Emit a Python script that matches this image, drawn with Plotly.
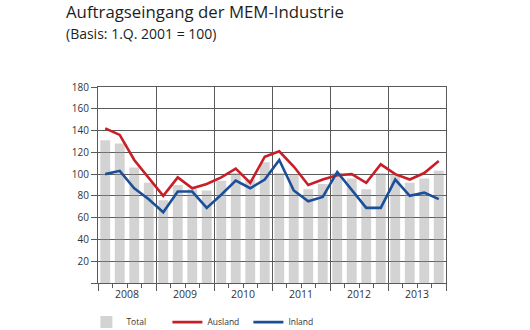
import plotly.graph_objects as go

# Quarterly order intake index of the MEM industry, 2008 Q1 - 2013 Q4
years = ["2008", "2009", "2010", "2011", "2012", "2013"]
quarters = list(range(24))

total = [131, 128, 106, 92, 76, 90, 86, 85, 94, 101, 95, 111,
         101, 100, 86, 91, 101, 96, 86, 101, 100, 92, 96, 103]
ausland = [142, 136, 113, 96, 80, 97, 87, 91, 97, 105, 92, 116,
           121, 107, 90, 95, 99, 100, 92, 109, 100, 95, 101, 112]
inland = [100, 103, 87, 77, 65, 84, 84, 69, 81, 94, 87, 95,
          113, 85, 75, 79, 102, 85, 69, 69, 95, 80, 83, 77]

FONT = "Open Sans"
GRID = "#5a5a5a"

fig = go.Figure()
fig.add_trace(go.Bar(
    x=quarters, y=total, name="Total", width=0.68,
    marker=dict(color="rgba(150,150,150,0.42)", line=dict(width=0)),
))
fig.add_trace(go.Scatter(
    x=quarters, y=ausland, name="Ausland", mode="lines",
    line=dict(color="#c81e28", width=2.6),
))
fig.add_trace(go.Scatter(
    x=quarters, y=inland, name="Inland", mode="lines",
    line=dict(color="#1c4f99", width=2.6),
))
# invisible trace carrying the year labels on the overlay axis
fig.add_trace(go.Scatter(x=[0], y=[0], xaxis="x2", showlegend=False,
                         mode="markers", marker=dict(opacity=0), hoverinfo="skip"))

year_bounds = [4 * i - 0.5 for i in range(len(years) + 1)]
year_centers = [4 * i + 1.5 for i in range(len(years))]

fig.update_layout(
    width=530, height=330,
    margin=dict(l=98, r=84, t=87, b=47, autoexpand=False),
    paper_bgcolor="white", plot_bgcolor="white",
    font=dict(family=FONT, color="#333333"),
    barmode="overlay",
    showlegend=True,
    legend=dict(orientation="h", xref="container", yref="container",
                x=0.163, xanchor="left", y=0.024, yanchor="middle",
                font=dict(size=8.5, color="#333333"), entrywidth=36,
                itemwidth=30, tracegroupgap=0, bgcolor="rgba(0,0,0,0)"),
    xaxis=dict(
        range=[-0.5, 23.5], tickmode="array", tickvals=year_bounds,
        ticktext=[""] * len(year_bounds), ticks="outside", ticklen=7,
        tickcolor=GRID, showgrid=True, gridcolor=GRID, gridwidth=1,
        showline=True, linecolor=GRID, linewidth=1, mirror=True,
        zeroline=False, automargin=False,
        minor=dict(tick0=-0.5, dtick=1, ticks="outside", ticklen=4,
                   tickcolor=GRID, showgrid=False),
    ),
    xaxis2=dict(
        overlaying="x", matches="x", side="bottom", anchor="y",
        tickmode="array", tickvals=year_centers, ticktext=years,
        ticks="", showgrid=False, showline=False, zeroline=False,
        automargin=False,
        tickfont=dict(size=10.5, color="#333333"), ticklabelstandoff=3,
    ),
    yaxis=dict(
        range=[0, 180], tickvals=list(range(0, 181, 20)),
        ticktext=[""] + [str(v) for v in range(20, 181, 20)],
        ticks="outside", ticklen=6, tickcolor=GRID,
        showgrid=True, gridcolor=GRID, gridwidth=1,
        showline=True, linecolor=GRID, linewidth=1, mirror=True,
        zeroline=False, automargin=False,
        tickfont=dict(size=10, color="#333333"),
    ),
)

fig.add_annotation(text="Auftragseingang der MEM-Industrie", xref="paper", yref="paper",
                   x=-0.0977, y=1.0, yshift=89, xanchor="left", yanchor="top",
                   showarrow=False, font=dict(size=16.8, family=FONT, color="#1e1e1e"))
fig.add_annotation(text="(Basis: 1.Q. 2001 = 100)", xref="paper", yref="paper",
                   x=-0.0977, y=1.0, yshift=65, xanchor="left", yanchor="top",
                   showarrow=False, font=dict(size=14, family=FONT, color="#1e1e1e"))

fig.write_html("out.html")
